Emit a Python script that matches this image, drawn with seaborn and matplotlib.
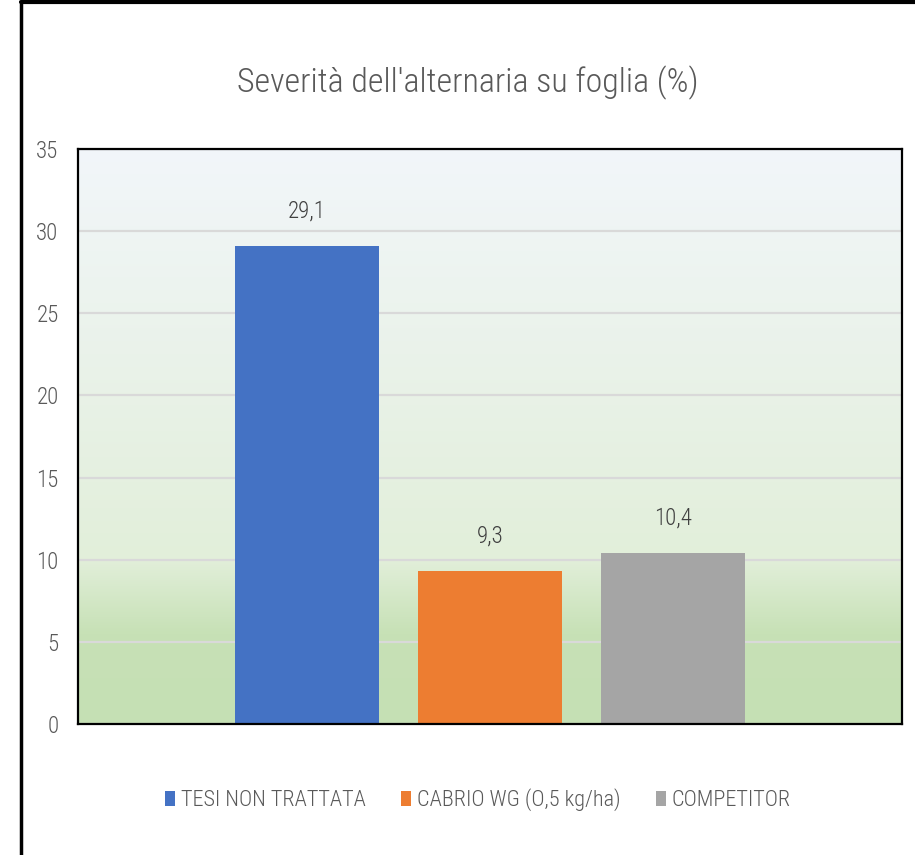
import numpy as np
import pandas as pd
import matplotlib
matplotlib.use("Agg")
import matplotlib.pyplot as plt
from matplotlib.lines import Line2D
import seaborn as sns

# ---- data ----
series = ["TESI NON TRATTATA", "CABRIO WG (O,5 kg/ha)", "COMPETITOR"]
values = [29.1, 9.3, 10.4]
colors = ["#4472C4", "#ED7D31", "#A5A5A5"]
title = "Severità dell'alternaria su foglia (%)"
yticks = [0, 5, 10, 15, 20, 25, 30, 35]

sns.set_theme(style="white")
plt.rcParams["font.family"] = ["Roboto Condensed", "DejaVu Sans"]
plt.rcParams["font.weight"] = 300
TXT = "#595959"

df = pd.DataFrame({"series": series, "value": values})

fig = plt.figure(figsize=(9.15, 8.55), dpi=100)
fig.patch.set_facecolor("white")
ax = fig.add_axes([78 / 915, 1 - 724 / 855, (902 - 78) / 915, (724 - 149) / 855])

xlim = (-1.25, 3.25)
ylim = (0, 35)

# background gradient of the plot area
yy = np.linspace(0, 35, 400)
stops_y = [0, 5.5, 10.0, 35]
stops_c = np.array([[197, 224, 180], [199, 225, 182], [226, 239, 218], [242, 246, 250]]) / 255.0
grad = np.stack([np.interp(yy, stops_y, stops_c[:, i]) for i in range(3)], axis=-1)
grad = np.repeat(grad[:, None, :], 2, axis=1)
ax.imshow(grad, extent=[xlim[0], xlim[1], 0, 35], origin="lower", aspect="auto",
          zorder=-1, interpolation="bilinear")

sns.barplot(data=df, x="series", y="value", hue="series", palette=colors,
            width=0.79, ax=ax, legend=True, saturation=1, zorder=2, linewidth=0)

ax.set_xlim(*xlim)
ax.set_ylim(*ylim)
ax.set_yticks(yticks)
ax.set_yticklabels([str(t) for t in yticks])
ax.set_xticks([])
ax.set_xlabel("")
ax.set_ylabel("")
ax.set_axisbelow(True)
ax.yaxis.grid(True, color="#D9D9D9", linewidth=1.6)
ax.xaxis.grid(False)
ax.tick_params(axis="y", length=0, pad=14, labelsize=16.5, labelcolor=TXT)
for s in ax.spines.values():
    s.set_visible(True)
    s.set_color("black")
    s.set_linewidth(1.6)

# data labels
for i, v in enumerate(values):
    ax.annotate(f"{v:.1f}".replace(".", ","), xy=(i, v), xytext=(0, 25),
                textcoords="offset points", ha="center", va="center",
                fontsize=16.5, color="#404040")

fig.text(468 / 915, 1 - 92 / 855, title, fontsize=24.5, color=TXT, ha="center", va="baseline")

handles, labels = ax.get_legend_handles_labels()
ax.legend(handles, labels, loc="center", bbox_to_anchor=((478 - 78) / 824, -(800 - 724) / 575),
          ncol=3, frameon=False, fontsize=16, labelcolor=TXT,
          handlelength=0.45, handleheight=0.7, handletextpad=0.25, columnspacing=1.6)

# outer frame (left and top edges, as in the screenshot)
fig.add_artist(Line2D([21 / 915, 21 / 915], [0, 1 - 2 / 855], transform=fig.transFigure,
                      color="black", linewidth=2.5))
fig.add_artist(Line2D([21 / 915, 1], [1 - 2 / 855, 1 - 2 / 855], transform=fig.transFigure,
                      color="black", linewidth=3))

fig.savefig("out.png", dpi=100, facecolor="white")
